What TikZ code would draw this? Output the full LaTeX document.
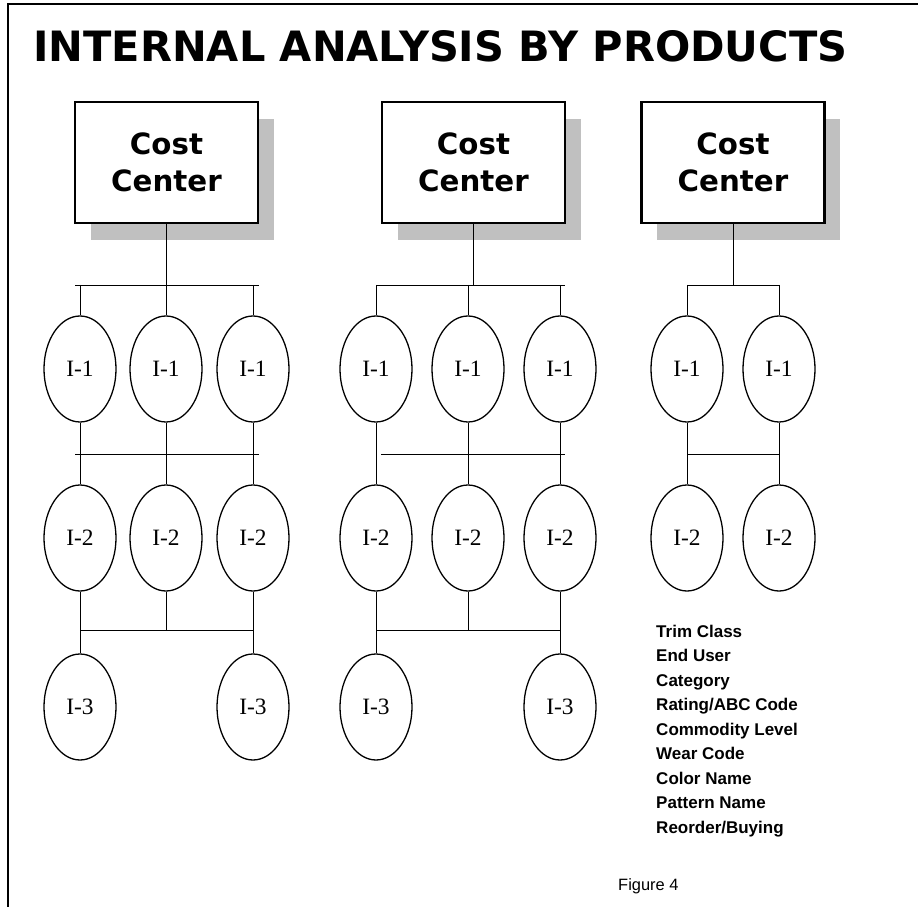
\documentclass[tikz,border=0pt]{standalone}
\usepackage{graphicx}
\usepackage{fontspec}
\setmainfont{Liberation Serif}
\newfontfamily\heavyfont{DejaVu Sans}
\newfontfamily\plainsans{Liberation Sans}
\usepackage{tikz}
\usetikzlibrary{shapes.geometric,shadows,positioning,calc}
\definecolor{shadowgray}{RGB}{192,192,192}
\tikzset{
  ccnode/.style={rectangle,draw=black,line width=1.8pt,fill=white,align=center,
    minimum width=5.49cm,minimum height=3.63cm,inner sep=0pt,
    font=\heavyfont\bfseries\fontsize{25}{31.6}\selectfont,
    drop shadow={shadow xshift=0.47cm,shadow yshift=-0.5cm,fill=shadowgray,opacity=1}},
  itemnode/.style={ellipse,draw=black,line width=1.1pt,fill=white,inner sep=0pt,
    minimum width=2.16cm,minimum height=3.18cm,font=\fontsize{20}{22}\selectfont},
  link/.style={draw=black,line width=0.75pt},
  attrtext/.style={anchor=base west,inner sep=0pt,font=\plainsans\bfseries\fontsize{14.5}{17}\selectfont},
  captext/.style={anchor=base west,inner sep=0pt,font=\plainsans\fontsize{14}{16}\selectfont}
}

\begin{document}
\begin{tikzpicture}[x=0.03cm,y=-0.03cm]
  \useasboundingbox (0,0) rectangle (918,907);
  \draw[line width=1.4pt] (918,4) -- (8,4) -- (8,907);

  \node[anchor=base west,inner sep=0pt] (title) at (33,62)
    {\resizebox{24.42cm}{0.93cm}{\heavyfont\bfseries INTERNAL ANALYSIS BY PRODUCTS}};

  \node[ccnode] (cc1) at (166.5,162.5) {Cost\\Center};
  \node[ccnode] (cc2) at (473.5,162.5) {Cost\\Center};
  \node[ccnode] (cc3) at (733,162.5) {Cost\\Center};

  \foreach \x/\n in {80/11,166/12,253/13,376/21,468/22,560/23,687/31,779/32} {
    \node[itemnode] (a\n) at (\x,369) {I-1};
    \node[itemnode] (b\n) at (\x,538) {I-2};
  }
  \foreach \x/\n in {80/11,253/13,376/21,560/23}
    \node[itemnode] (c\n) at (\x,707) {I-3};

  \coordinate (t1l) at (75,285);  \coordinate (t1r) at (259,285);
  \coordinate (m1l) at (75,454);  \coordinate (m1r) at (259,454);
  \coordinate (t2l) at (376,285); \coordinate (t2r) at (565,285);
  \coordinate (m2l) at (381,454); \coordinate (m2r) at (565,454);
  \coordinate (t3l) at (687,285); \coordinate (t3r) at (779,285);
  \coordinate (m3l) at (687,454); \coordinate (m3r) at (779,454);
  \coordinate (low) at (0,630);

  \draw[link] (t1l) -- (t1r);  \draw[link] (m1l) -- (m1r);
  \draw[link] (t2l) -- (t2r);  \draw[link] (m2l) -- (m2r);
  \draw[link] (t3l) -- (t3r);  \draw[link] (m3l) -- (m3r);
  \draw[link] (cc1.south) -- (cc1.south |- t1l);
  \draw[link] (cc2.south) -- (cc2.south |- t2l);
  \draw[link] (cc3.south) -- (cc3.south |- t3l);
  \foreach \n in {11,12,13,21,22,23,31,32} {
    \draw[link] (a\n.north |- t1l) -- (a\n.north);
    \draw[link] (a\n.south) -- (b\n.north);
  }
  \foreach \n in {11,13,21,23}
    \draw[link] (b\n.south) -- (c\n.north);
  \draw[link] (b11 |- low) -- (b13 |- low);
  \draw[link] (b21 |- low) -- (b23 |- low);
  \draw[link] (b12.south) -- (b12.south |- low);
  \draw[link] (b22.south) -- (b22.south |- low);

  \foreach \t [count=\i] in {Trim Class,End User,Category,Rating/ABC Code,Commodity Level,
      Wear Code,Color Name,Pattern Name,Reorder/Buying}
    \node[attrtext] (attr\i) at (656,{637+24.5*(\i-1)}) {\t};

  \node[captext] (figlabel) at (618,890) {Figure 4};
\end{tikzpicture}
\end{document}
